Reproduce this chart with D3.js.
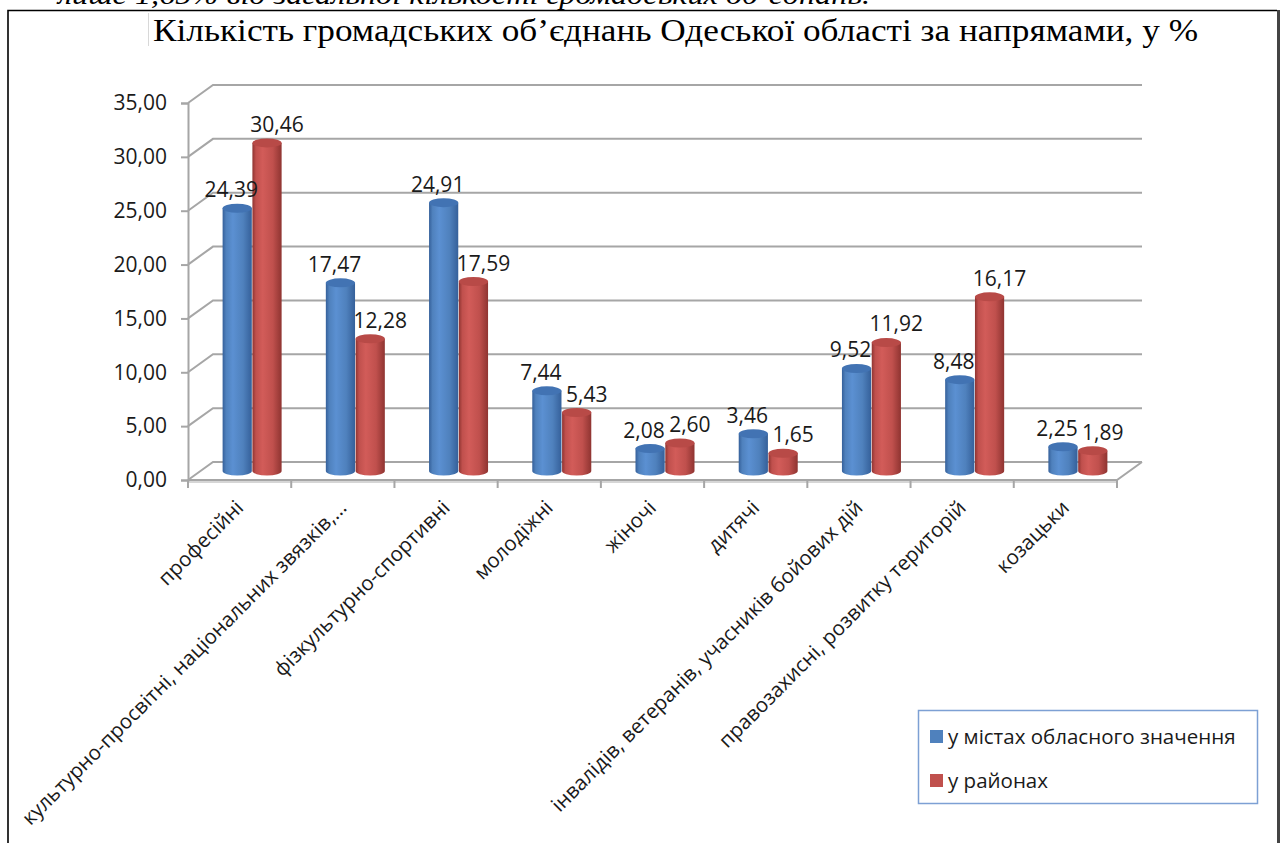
<!DOCTYPE html>
<html>
<head>
<meta charset="utf-8">
<script src="https://cdn.jsdelivr.net/npm/d3@7"></script>
<style>
  html, body { margin: 0; padding: 0; background: #fff; overflow: hidden; }
  svg { display: block; }
</style>
</head>
<body>
<svg id="main"></svg>
<script>
const width = 1283;
const height = 843;

const categories = [
  'професійні',
  'культурно-просвітні, національних звязків,...',
  'фізкультурно-спортивні',
  'молодіжні',
  'жіночі',
  'дитячі',
  'інвалідів, ветеранів, учасників бойових дій',
  'правозахисні, розвитку територій',
  'козацьки'
]
const cities = [24.39, 17.47, 24.91, 7.44, 2.08, 3.46, 9.52, 8.48, 2.25]
const districts = [30.46, 12.28, 17.59, 5.43, 2.60, 1.65, 11.92, 16.17, 1.89]
const seriesNames = ['у містах обласного значення', 'у районах']
const yTicks = [0, 5, 10, 15, 20, 25, 30, 35]

const colors = [
  {base: '#4f81bd', light: '#5b90d2', dark: '#35609a', top: '#4273b3'},
  {base: '#c0504d', light: '#d25c59', dark: '#8f3431', top: '#b84a47'}
]

const fmt = v => d3.format('.2f')(v).replace('.', ',')
const sansFont = '"Open Sans", "DejaVu Sans", sans-serif'

const svg = d3.select('#main')
  .attr('width', width)
  .attr('height', height)
  .attr('viewBox', `0 0 ${width} ${height}`)

// depth of the 3d box
const depth = {dx: 25, dy: -18}

const x = d3.scaleBand().domain(categories.map((d, i) => i)).range([188, 1117])
const y = d3.scaleLinear().domain([0, 35]).range([480, 103])

// cut-off text line from the page above the chart
svg.append('text')
  .attr('x', 58).attr('y', 4)
  .attr('font-family', '"Liberation Serif", "Times New Roman", serif')
  .attr('font-style', 'italic')
  .attr('font-size', 28)
  .attr('textLength', 812).attr('lengthAdjust', 'spacingAndGlyphs')
  .attr('fill', '#000')
  .text('лише 1,65% від загальної кількості громадських об’єднань.')

// chart frame
svg.append('rect')
  .attr('x', 0).attr('y', 10).attr('width', width).attr('height', height)
  .attr('fill', '#fff')
svg.append('path')
  .attr('d', `M 8 ${height} V 10.5 H 1277`)
  .attr('fill', 'none').attr('stroke', '#000').attr('stroke-width', 1.6)
svg.append('line')
  .attr('x1', 1278.5).attr('x2', 1278.5).attr('y1', 10).attr('y2', height)
  .attr('stroke', '#444').attr('stroke-width', 3)
svg.append('line')
  .attr('x1', 148.5).attr('x2', 148.5).attr('y1', 13).attr('y2', 46)
  .attr('stroke', '#d8d8d8').attr('stroke-width', 1)

// title
svg.append('text')
  .attr('x', 153).attr('y', 41)
  .attr('font-family', '"Liberation Serif", "Times New Roman", serif')
  .attr('font-size', 31)
  .attr('textLength', 1045).attr('lengthAdjust', 'spacingAndGlyphs')
  .attr('fill', '#000')
  .text('Кількість громадських об’єднань Одеської області за напрямами, у %')

// walls and gridlines
const grid = svg.append('g').attr('class', 'grid')
  .attr('stroke', '#a6a6a6').attr('stroke-width', 2).attr('fill', 'none')
const x0 = x.range()[0], x1 = x.range()[1]
yTicks.forEach(t => {
  grid.append('path')
    .attr('d', `M ${x0} ${y(t)} L ${x0 + depth.dx} ${y(t) + depth.dy} H ${x1 + depth.dx}`)
})
// floor right edge and front edge
grid.append('path')
  .attr('d', `M ${x0} ${y(0)} H ${x1} L ${x1 + depth.dx} ${y(0) + depth.dy}`)
grid.append('line')
  .attr('x1', x0).attr('x2', x1).attr('y1', y(0) + 2).attr('y2', y(0) + 2)
  .attr('stroke', '#c8c8c8').attr('stroke-width', 1.5)

// y axis
const yAxis = d3.axisLeft(y).tickValues(yTicks).tickFormat(fmt).tickSize(7).tickPadding(14)
const yg = svg.append('g').attr('transform', `translate(${x0},0)`).call(yAxis)
yg.select('.domain').attr('stroke', '#a6a6a6').attr('stroke-width', 2)
yg.selectAll('.tick line').attr('stroke', '#a6a6a6').attr('stroke-width', 2)
yg.selectAll('.tick text')
  .attr('font-family', sansFont).attr('font-size', 21).attr('fill', '#1a1a1a')

// x ticks at category boundaries
const xb = svg.append('g').attr('stroke', '#a6a6a6').attr('stroke-width', 2)
categories.map((d, i) => x(i)).concat([x1]).forEach(v => {
  xb.append('line').attr('x1', v).attr('x2', v).attr('y1', y(0)).attr('y2', y(0) + 8)
})

// category labels
svg.append('g').selectAll('text')
  .data(categories)
  .join('text')
  .attr('transform', (d, i) => `translate(${x(i) + x.bandwidth() / 2 + 5},${y(0) + 29}) rotate(-45)`)
  .attr('text-anchor', 'end')
  .attr('font-family', sansFont)
  .attr('font-size', 20.5)
  .attr('fill', '#1a1a1a')
  .text(d => d)

// cylinders
const inner = d3.scaleBand().domain([0, 1]).range([-29.5, 29.5]).paddingInner(0.02)
const defs = svg.append('defs')
colors.forEach((c, s) => {
  const g = defs.append('linearGradient').attr('id', `cyl${s}`)
    .attr('x1', '0%').attr('x2', '100%').attr('y1', '0%').attr('y2', '0%')
  g.append('stop').attr('offset', '0%').attr('stop-color', c.dark)
  g.append('stop').attr('offset', '12%').attr('stop-color', c.base)
  g.append('stop').attr('offset', '35%').attr('stop-color', c.light)
  g.append('stop').attr('offset', '70%').attr('stop-color', c.base)
  g.append('stop').attr('offset', '100%').attr('stop-color', c.dark)
})

const series = [cities, districts]
const labelShift = [-6, 10]
const ry = 4.5
const bars = svg.append('g').attr('class', 'bars')
const labels = svg.append('g').attr('class', 'labels')
categories.forEach((cat, i) => {
  const placed = []
  series.forEach((vals, s) => {
    const v = vals[i]
    const cx0 = x(i) + x.bandwidth() / 2 + depth.dx / 2 + inner(s)
    const w = inner.bandwidth()
    const rx = w / 2
    const cx = cx0 + rx
    const yb = y(0) + depth.dy / 2
    const yt = y(v) + depth.dy / 2
    bars.append('path')
      .attr('d', `M ${cx0} ${yt} V ${yb} A ${rx} ${ry} 0 0 0 ${cx0 + w} ${yb} V ${yt} Z`)
      .attr('fill', `url(#cyl${s})`)
    bars.append('ellipse')
      .attr('cx', cx).attr('cy', yt).attr('rx', rx).attr('ry', ry)
      .attr('fill', colors[s].top)
    const t = labels.append('text')
      .attr('x', cx + labelShift[s]).attr('y', yt - 11)
      .attr('text-anchor', 'middle')
      .attr('font-family', sansFont)
      .attr('font-size', 21)
      .attr('fill', '#1a1a1a')
      .text(fmt(v))
    placed.push({t, v, bb: t.node().getBBox()})
  })
  // push the taller bar's label up when the two labels collide
  const [a, b] = placed
  const hOverlap = a.bb.x + a.bb.width + 2 > b.bb.x
  const vOverlap = Math.abs(a.bb.y - b.bb.y) < a.bb.height
  if (hOverlap && vOverlap) {
    const hi = a.v > b.v ? a : b
    const lo = hi === a ? b : a
    hi.t.attr('y', lo.bb.y - 4)
  }
})

// legend
const legend = svg.append('g').attr('transform', 'translate(918,710)')
legend.append('rect')
  .attr('x', 0.5).attr('y', 0.5).attr('width', 339).attr('height', 93)
  .attr('fill', '#fff').attr('stroke', '#7da0d4').attr('stroke-width', 1.5)
seriesNames.forEach((name, s) => {
  const row = legend.append('g').attr('transform', `translate(12,${20 + s * 44})`)
  row.append('rect').attr('x', 0).attr('y', 0).attr('width', 13).attr('height', 13)
    .attr('fill', colors[s].base)
  row.append('text').attr('x', 18).attr('y', 14)
    .attr('font-family', sansFont).attr('font-size', 20.5).attr('fill', '#1a1a1a')
    .text(name)
})
</script>
</body>
</html>
